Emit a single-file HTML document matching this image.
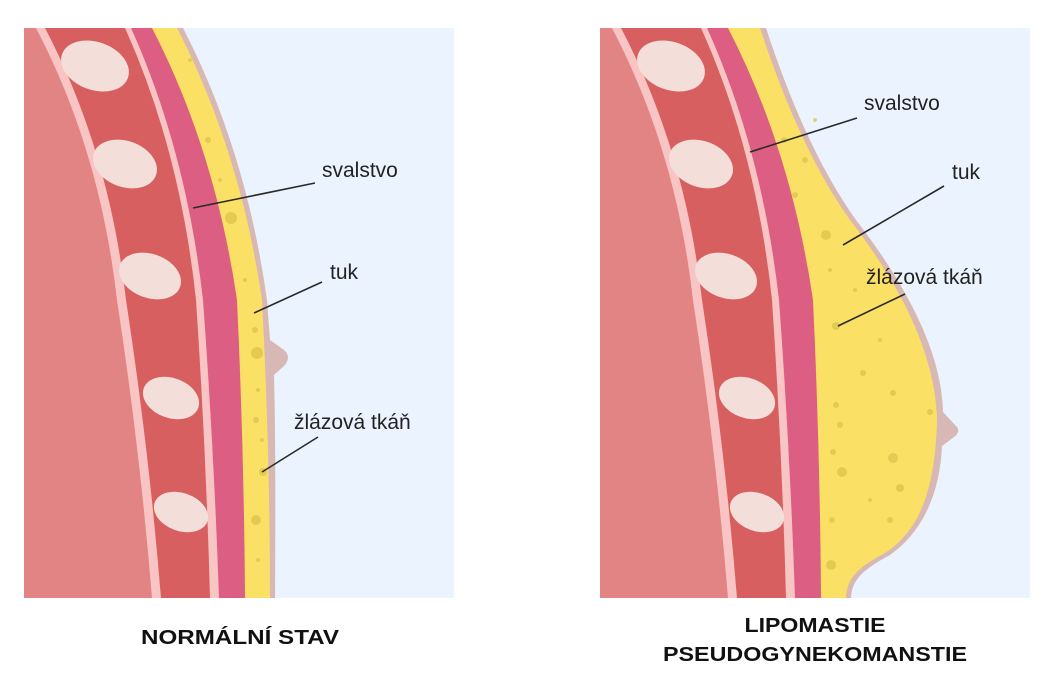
<!DOCTYPE html>
<html><head><meta charset="utf-8"><style>
html,body{margin:0;padding:0;background:#fff;}
svg{display:block;}
.lbl{font-family:"Liberation Sans",sans-serif;font-size:21px;fill:#222;}
.ttl{font-family:"Liberation Sans",sans-serif;font-size:20px;font-weight:bold;fill:#111;}
</style></head><body>
<svg width="1058" height="677" viewBox="0 0 1058 677" xmlns="http://www.w3.org/2000/svg">
<defs>
<clipPath id="cl"><rect x="24" y="28" width="430" height="570"/></clipPath>
<clipPath id="cr"><rect x="600" y="28" width="430" height="570"/></clipPath>
<g id="inner">
<path d="M0,28 L152,28 Q215,150 237,300 Q244,450 245,598 L0,598Z" fill="#DC5E82"/>
<path d="M0,28 L131,28 Q186,150 203,300 Q214,450 219,598 L0,598Z" fill="#F9C4C4"/>
<path d="M0,28 L125,28 Q180,150 196,300 Q206,450 210,598 L0,598Z" fill="#D85F5F"/>
<path d="M0,28 L45,28 Q109,150 126,300 Q149,450 161,598 L0,598Z" fill="#F9C4C4"/>
<path d="M0,28 L36,28 Q100,150 117,300 Q140,450 152,598 L0,598Z" fill="#E38484"/>
<g fill="#F3DED9">
<ellipse cx="95" cy="66" rx="35" ry="24" transform="rotate(20 95 66)"/>
<ellipse cx="125" cy="164" rx="33" ry="23" transform="rotate(20 125 164)"/>
<ellipse cx="150" cy="276" rx="32" ry="22" transform="rotate(20 150 276)"/>
<ellipse cx="171" cy="398" rx="29" ry="20" transform="rotate(20 171 398)"/>
<ellipse cx="181" cy="512" rx="28" ry="19" transform="rotate(20 181 512)"/>
</g>
</g>
</defs>
<!-- LEFT -->
<g clip-path="url(#cl)">
<rect x="24" y="28" width="430" height="570" fill="#EBF3FE"/>
<path d="M24,28 L183,28 Q246,150 267,300 L270,340 L284,350 Q292,357 284,366 L274,375 Q276,450 275,598 L24,598Z" fill="#D7B8B4"/>
<path d="M24,28 L177,28 Q240,150 262,300 Q270,450 270,598 L24,598Z" fill="#FBE066"/>
<g fill="#D9C24A" opacity="0.7">
<circle cx="231" cy="218" r="6"/><circle cx="208" cy="140" r="3"/><circle cx="257" cy="353" r="6"/><circle cx="255" cy="330" r="3"/><circle cx="258" cy="390" r="2"/><circle cx="256" cy="420" r="3"/><circle cx="256" cy="520" r="5"/><circle cx="263" cy="472" r="4"/><circle cx="258" cy="560" r="2"/><circle cx="220" cy="180" r="2"/><circle cx="245" cy="280" r="2"/><circle cx="190" cy="60" r="2"/><circle cx="262" cy="440" r="2"/>
</g>
<use href="#inner" x="0"/>
</g>
<!-- RIGHT -->
<g clip-path="url(#cr)">
<rect x="600" y="28" width="430" height="570" fill="#EBF3FE"/>
<path d="M600,28 L766,28 Q806,150 856,220 Q941,330 943,412 L955,425 Q962,431 954,437 L942,446 C940,490 925,530 890,555 C862,570 852,580 851,598 L600,598Z" fill="#D7B8B4"/>
<path d="M600,28 L760,28 Q800,150 850,220 Q935,330 937,420 C935,490 920,530 885,553 C857,568 847,578 846,598 L600,598Z" fill="#FBE066"/>
<g fill="#D9C24A" opacity="0.7">
<circle cx="784" cy="140" r="3"/><circle cx="805" cy="160" r="3"/><circle cx="826" cy="235" r="5"/><circle cx="836" cy="326" r="4"/><circle cx="863" cy="373" r="3"/><circle cx="893" cy="393" r="3"/><circle cx="836" cy="405" r="3"/><circle cx="840" cy="425" r="3"/><circle cx="930" cy="412" r="3"/><circle cx="893" cy="458" r="5"/><circle cx="833" cy="452" r="3"/><circle cx="842" cy="472" r="5"/><circle cx="900" cy="488" r="4"/><circle cx="832" cy="520" r="3"/><circle cx="890" cy="520" r="3"/><circle cx="831" cy="565" r="5"/><circle cx="870" cy="500" r="2"/><circle cx="815" cy="120" r="2"/><circle cx="855" cy="290" r="2"/><circle cx="880" cy="340" r="2"/><circle cx="795" cy="195" r="3"/><circle cx="830" cy="270" r="2"/>
</g>
<use href="#inner" x="576"/>
</g>
<!-- labels -->
<g stroke="#2a2a2a" stroke-width="1.6">
<line x1="315" y1="183" x2="193" y2="208"/>
<line x1="322" y1="282" x2="254" y2="313"/>
<line x1="318" y1="437" x2="262" y2="472"/>
<line x1="857" y1="118" x2="750" y2="152"/>
<line x1="944" y1="186" x2="843" y2="245"/>
<line x1="905" y1="294" x2="838" y2="326"/>
</g>
<text class="lbl" x="322" y="177">svalstvo</text>
<text class="lbl" x="330" y="279">tuk</text>
<text class="lbl" x="294" y="429">žlázová tkáň</text>
<text class="lbl" x="864" y="110">svalstvo</text>
<text class="lbl" x="952" y="179">tuk</text>
<text class="lbl" x="866" y="284">žlázová tkáň</text>
<text class="ttl" x="240" y="644" text-anchor="middle" textLength="198" lengthAdjust="spacingAndGlyphs">NORMÁLNÍ STAV</text>
<text class="ttl" x="815" y="632" text-anchor="middle" textLength="141" lengthAdjust="spacingAndGlyphs">LIPOMASTIE</text>
<text class="ttl" x="815" y="661" text-anchor="middle" textLength="304" lengthAdjust="spacingAndGlyphs">PSEUDOGYNEKOMANSTIE</text>
</svg>
</body></html>
